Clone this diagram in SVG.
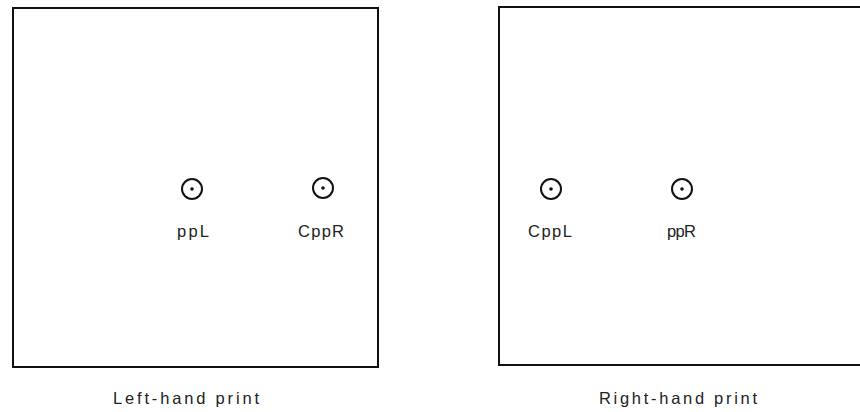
<svg xmlns="http://www.w3.org/2000/svg" width="860" height="412" viewBox="0 0 860 412">
<style>
.box{fill:none;stroke:#111;stroke-width:2}
.ring{fill:none;stroke:#111;stroke-width:2}
.dot{fill:#111}
.lbl{font-family:"Liberation Sans",Arial,sans-serif;font-size:16.5px;fill:#222}
</style>
<rect width="860" height="412" fill="#fff"/>
<g id="left-print">
<rect class="box" x="13" y="8" width="365" height="359"/>
</g>
<g id="right-print">
<rect class="box" x="499" y="7" width="380" height="358"/>
</g>
<g id="ppL">
<circle class="ring" cx="192" cy="189" r="10"/>
<circle class="dot" cx="192" cy="189" r="1.8"/>
<text class="lbl" x="177" y="237" textLength="32" lengthAdjust="spacing">ppL</text>
</g>
<g id="CppR">
<circle class="ring" cx="323" cy="188" r="10"/>
<circle class="dot" cx="323" cy="188" r="1.8"/>
<text class="lbl" x="298" y="237" textLength="46" lengthAdjust="spacing">CppR</text>
</g>
<g id="CppL">
<circle class="ring" cx="551" cy="189" r="10"/>
<circle class="dot" cx="551" cy="189" r="1.8"/>
<text class="lbl" x="528" y="237" textLength="44" lengthAdjust="spacing">CppL</text>
</g>
<g id="ppR">
<circle class="ring" cx="682" cy="189" r="10"/>
<circle class="dot" cx="682" cy="189" r="1.8"/>
<text class="lbl" x="667" y="237" textLength="29" lengthAdjust="spacing">ppR</text>
</g>
<g id="captions">
<text class="lbl" x="113" y="404" textLength="146" lengthAdjust="spacing">Left-hand print</text>
<text class="lbl" x="599" y="404" textLength="158" lengthAdjust="spacing">Right-hand print</text>
</g>
<g id="connectors"></g>
</svg>
